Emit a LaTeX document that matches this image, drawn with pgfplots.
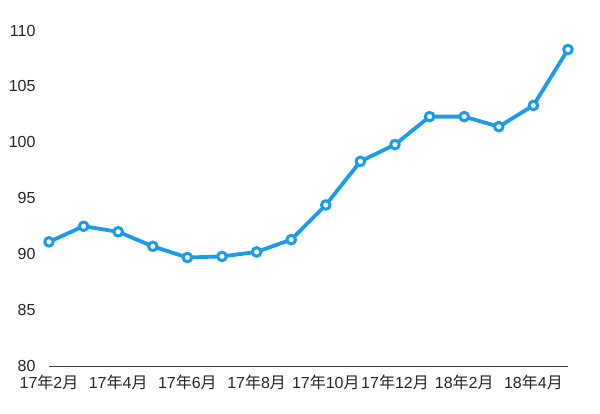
\documentclass[border=0pt]{standalone}
\usepackage{fontspec}
\setmainfont{Liberation Sans}
\newfontfamily\cjk{Noto Sans CJK JP}
\usepackage{pgfplots}
\pgfplotsset{compat=1.18}
\definecolor{lineblue}{RGB}{28,156,232}
\newcommand{\ym}[2]{#1{\cjk 年}#2{\cjk 月}}
\begin{document}
\begin{tikzpicture}
\useasboundingbox (-49bp,-48bp) rectangle (551bp,366bp);
\begin{axis}[
  scale only axis,
  width=519bp, height=335.5bp,
  xmin=0, xmax=15, ymin=80, ymax=110,
  axis x line*=bottom, axis y line*=left,
  x axis line style={-, draw=black!75, line width=0.8bp},
  y axis line style={draw=none},
  major tick length=0pt,
  ytick={80,85,...,110},
  xtick={0,2,...,14},
  xticklabels={\ym{17}{2},\ym{17}{4},\ym{17}{6},\ym{17}{8},\ym{17}{10},\ym{17}{12},\ym{18}{2},\ym{18}{4}},
  tick label style={font=\fontsize{16bp}{18bp}\selectfont, text=black!85},
  yticklabel style={xshift=-10bp},
  xticklabel style={yshift=-5bp, inner xsep=0pt},
  /pgf/number format/assume math mode=true,
  clip=false,
]
\addplot[color=lineblue, line width=3.8bp, line join=round,
  mark=*, mark size=4.3bp,
  mark options={fill=white, draw=lineblue, line width=3bp}]
coordinates {
(0,91.1) (1,92.5) (2,92.0) (3,90.7) (4,89.7) (5,89.8) (6,90.2) (7,91.3)
(8,94.4) (9,98.3) (10,99.8) (11,102.3) (12,102.3) (13,101.4) (14,103.3) (15,108.3)
};
\end{axis}
\end{tikzpicture}
\end{document}
